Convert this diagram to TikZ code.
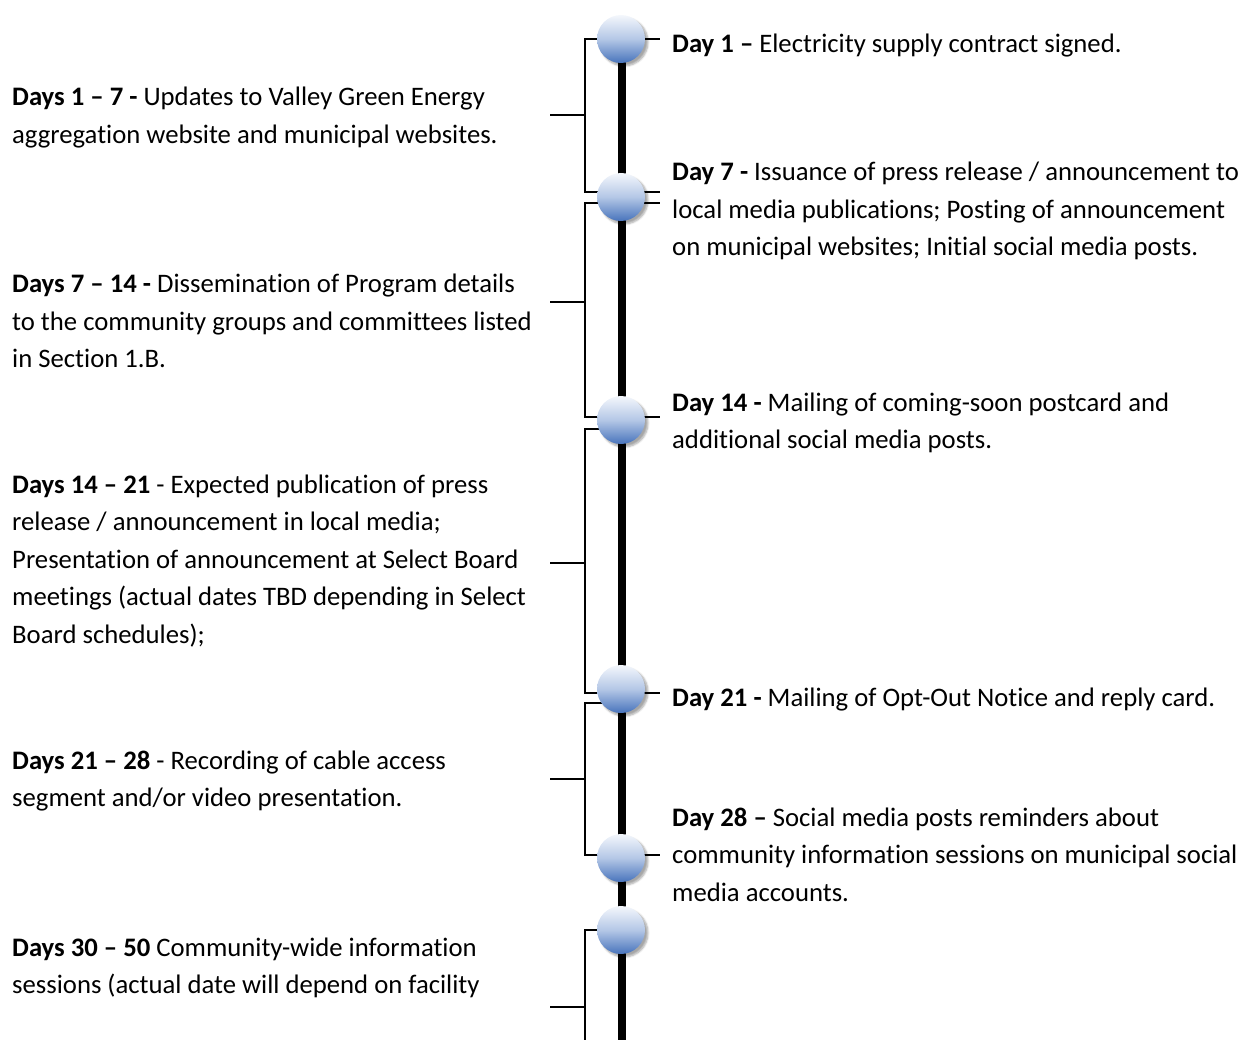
\documentclass[tikz,border=0pt]{standalone}
\usepackage{fontspec}
\setmainfont{Carlito}[Ligatures=NoCommon]
\usetikzlibrary{shadows.blur}
\definecolor{bubtop}{HTML}{F4F7FC}
\definecolor{bubmid}{HTML}{B4C7E6}
\definecolor{bubbot}{HTML}{4874BC}
\begin{document}
\begin{tikzpicture}[x=1pt,y=-1pt,
  bubble/.style={circle,minimum size=48pt,inner sep=0pt,
    top color=bubtop,bottom color=bubbot,middle color=bubmid,
    blur shadow={shadow xshift=3pt,shadow yshift=-3pt,shadow blur steps=6,shadow opacity=35}},
  spine/.style={line width=7.5pt,black},
  tie/.style={line width=1.8pt,black},
  txt/.style={anchor=base west,inner sep=0pt,align=left,text width=600pt,
    font=\fontsize{26.7}{37.5}\selectfont,
    execute at begin node={\spaceskip=0pt\xspaceskip=0pt\frenchspacing}}]
\useasboundingbox (0,0) rectangle (1252,1040);
% bubble positions
\coordinate (p1) at (621,39);
\coordinate (p2) at (621,197);
\coordinate (p3) at (621,420);
\coordinate (p4) at (621,689);
\coordinate (p5) at (621,858);
\coordinate (p6) at (621,930);
\coordinate (bottom) at (622,1040);
% spine
\draw[spine] (622,39) -- (bottom);
% right ties
\foreach \y in {39,192,203,417,693,855}{\draw[tie] (621,\y) -- (660,\y);}
% left brackets
\draw[tie] (621,39) -- (585,39) -- (585,192) -- (621,192);
\draw[tie] (585,115) -- (550,115);
\draw[tie] (621,203) -- (585,203) -- (585,417) -- (621,417);
\draw[tie] (585,302) -- (550,302);
\draw[tie] (621,429) -- (585,429) -- (585,693) -- (621,693);
\draw[tie] (585,563) -- (550,563);
\draw[tie] (621,703) -- (585,703) -- (585,855) -- (621,855);
\draw[tie] (585,779) -- (550,779);
\draw[tie] (621,930) -- (585,930) -- (585,1040);
\draw[tie] (585,1007) -- (550,1007);
% bubbles
\foreach \i in {1,...,6}{\node[bubble] (b\i) at (p\i) {};}
% right texts
\node[txt] (r1) at (672,53) {\textbf{Day 1 –} Electricity supply contract signed.};
\node[txt] (r2) at (672,181) {\textbf{Day 7 -} Issuance of press release / announcement to\\local media publications; Posting of announcement\\on municipal websites; Initial social media posts.};
\node[txt] (r3) at (672,411) {\textbf{Day 14 -} Mailing of coming-soon postcard and\\additional social media posts.};
\node[txt] (r4) at (672,706) {\textbf{Day 21 -} Mailing of Opt-Out Notice and reply card.};
\node[txt] (r5) at (672,826) {\textbf{Day 28 –} Social media posts reminders about\\community information sessions on municipal social\\media accounts.};
% left texts
\node[txt] (l1) at (12,106) {\textbf{Days 1 – 7 -} Updates to Valley Green Energy\\aggregation website and municipal websites.};
\node[txt] (l2) at (12,293) {\textbf{Days 7 – 14 -} Dissemination of Program details\\to the community groups and committees listed\\in Section 1.B.};
\node[txt] (l3) at (12,493) {\textbf{Days 14 – 21} - Expected publication of press\\release / announcement in local media;\\Presentation of announcement at Select Board\\meetings (actual dates TBD depending in Select\\Board schedules);};
\node[txt] (l4) at (12,769) {\textbf{Days 21 – 28} - Recording of cable access\\segment and/or video presentation.};
\node[txt] (l5) at (12,956) {\textbf{Days 30 – 50} Community-wide information\\sessions (actual date will depend on facility};
\end{tikzpicture}
\end{document}
